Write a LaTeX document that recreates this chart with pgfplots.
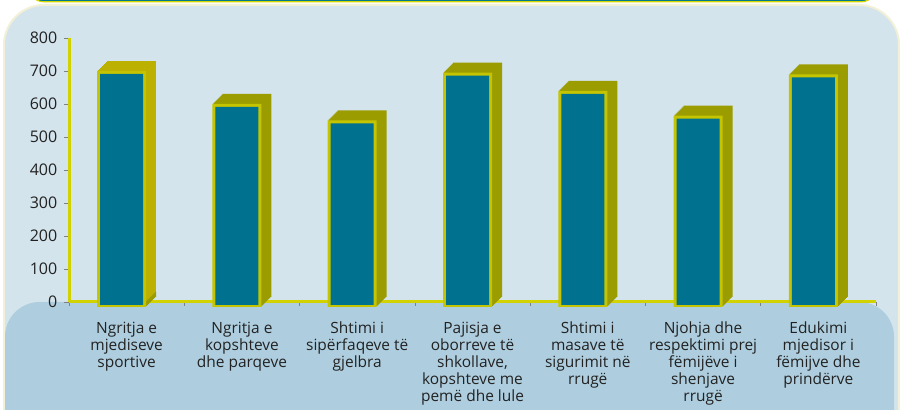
\documentclass[border=0pt]{standalone}
\usepackage{pgfplots}
\usepackage{pgfplotstable}
\pgfplotsset{compat=1.18}
\usepackage{fontspec}
\setmainfont{Open Sans}

\definecolor{panel}{HTML}{D4E4EC}
\definecolor{lower}{HTML}{AECEDF}
\definecolor{barteal}{HTML}{00728F}
\definecolor{barrim}{HTML}{C4C400}
\definecolor{side}{HTML}{9A9C00}
\definecolor{sideA}{HTML}{BCB000}
\definecolor{axisyel}{HTML}{D2D200}
\definecolor{stripteal}{HTML}{007A8A}
\definecolor{stripyel}{HTML}{D6D600}
\definecolor{edge}{HTML}{F2F0D6}
\definecolor{ink}{HTML}{222222}

% values
\pgfplotstableread{
x y
0 700
1 600
2 550
3 695
4 640
5 565
6 690
}\bars

% short foot of each bar below the axis line
\pgfplotstableread{
x y
0 -15
1 -15
2 -15
3 -15
4 -15
5 -15
6 -15
}\stub

\begin{document}
\begin{tikzpicture}
% background panels (pixel coordinates, y downwards)
\begin{scope}[x=0.75pt, y=-0.75pt, yshift=307.5pt]
  \fill[white] (0,0) rectangle (903,410);
  \fill[panel, draw=edge, line width=1.5pt, rounded corners=30pt] (4,5) rectangle (899,470);
  \fill[stripteal, draw=stripyel, line width=0.9pt, rounded corners=12pt] (28,-40) rectangle (877,1.8);
  \fill[lower, rounded corners=26pt] (5,302) rectangle (894,480);
\end{scope}

\begin{axis}[
    at={(51.75pt,81pt)}, anchor=south west,
    width=605.25pt, height=198pt, scale only axis,
    xmin=-0.5, xmax=6.5, ymin=0, ymax=800,
    clip=false,
    axis lines=left,
    axis line style={-, draw=axisyel, line width=2.25pt},
    ytick={0,100,...,800},
    xtick={0,...,6},
    minor xtick={-0.5,0.5,...,6.5},
    xticklabels={
      {Ngritja e\\mjediseve\\sportive},
      {Ngritja e\\kopshteve\\dhe parqeve},
      {Shtimi i\\sipërfaqeve të\\gjelbra},
      {Pajisja e\\oborreve të\\shkollave,\\kopshteve me\\pemë dhe lule},
      {Shtimi i\\masave të\\sigurimit në\\rrugë},
      {Njohja dhe\\respektimi prej\\fëmijëve i\\shenjave\\rrugë},
      {Edukimi\\mjedisor i\\fëmijve dhe\\prindërve}},
    tick align=outside,
    major tick length=3.75pt,
    minor tick length=3pt,
    ytick style={draw=gray, line width=0.5pt},
    major x tick style={draw=none},
    minor x tick style={draw=gray, line width=0.5pt},
    /pgf/number format/assume math mode=true,
    yticklabel style={font=\fontsize{12}{13}\selectfont, text=ink, xshift=-1.5pt},
    xticklabel style={font=\fontsize{11.6}{12.75}\selectfont, text=ink,
      align=center, anchor=north, yshift=-7.5pt},
  ]
  % depth of the boxes: shifted copies, back to front
  \pgfplotsinvokeforeach{10,9,...,1}{
    \addplot[ybar, bar width=0.425, bar shift=-3.75pt, xshift=#1*0.75pt, yshift=#1*0.75pt,
      fill=side, draw=none, restrict x to domain=0.9:6.1] table {\bars};
    \addplot[ybar, bar width=0.425, bar shift=-3.75pt, xshift=#1*0.75pt, yshift=#1*0.75pt,
      fill=sideA, draw=none, restrict x to domain=-0.1:0.1] table {\bars};
    \addplot[ybar, bar width=0.425, bar shift=-3.75pt, xshift=#1*0.75pt, yshift=#1*0.75pt,
      fill=side, draw=none] table {\stub};
  }
  % front faces: yellow rim, teal inside
  \addplot[ybar, bar width=0.425, bar shift=-3.75pt, fill=barrim, draw=none] table {\bars};
  \addplot[ybar, bar width=0.425, bar shift=-3.75pt, fill=barrim, draw=none] table {\stub};
  \addplot[ybar, bar width=0.373, bar shift=-3.75pt, yshift=-2.25pt, fill=barteal, draw=none] table {\bars};
\end{axis}

\pgfresetboundingbox
\path[use as bounding box] (0,0) rectangle (677.25pt,307.5pt);
\end{tikzpicture}
\end{document}
